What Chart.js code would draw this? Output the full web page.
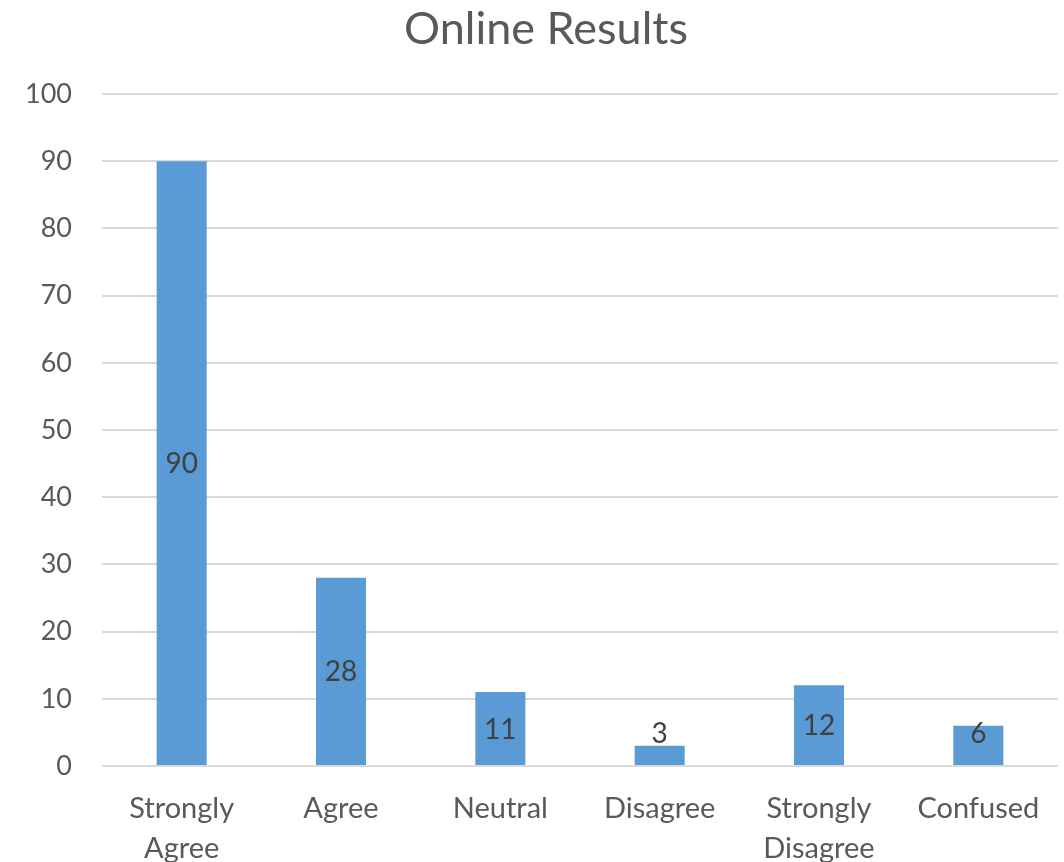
<!DOCTYPE html>
<html>
<head>
<meta charset="utf-8">
<script src="https://cdn.jsdelivr.net/npm/chart.js@4.4.0/dist/chart.umd.min.js"></script>
<style>
html,body{margin:0;padding:0;background:#fff;}
#wrap{width:1064px;height:862px;}
</style>
</head>
<body>
<div id="wrap"><canvas id="c" width="1064" height="862"></canvas></div>
<script>
const categories = [["Strongly","Agree"], "Agree", "Neutral", "Disagree", ["Strongly","Disagree"], "Confused"];
const values = [90, 28, 11, 3, 12, 6];
const yTicks = [0, 10, 20, 30, 40, 50, 60, 70, 80, 90, 100];
const titleText = "Online Results";

const FONT = "Lato, 'Open Sans', sans-serif";

const labelPlugin = {
  id: 'barLabels',
  afterLayout(chart) {
    const t = chart.titleBlock;
    if (t) { t.left += 34; }
  },
  afterDatasetsDraw(chart) {
    const ctx = chart.ctx;
    const meta = chart.getDatasetMeta(0);
    const zeroY = chart.scales.y.getPixelForValue(0);
    ctx.save();
    ctx.font = "28px " + FONT;
    ctx.fillStyle = "#404040";
    ctx.textAlign = "center";
    ctx.textBaseline = "middle";
    meta.data.forEach((bar, i) => {
      let cy = (bar.y + bar.base) / 2;
      cy = Math.min(cy, zeroY - 33);
      ctx.fillText(String(values[i]), bar.x, cy + 1);
    });
    ctx.restore();
  }
};

new Chart(document.getElementById('c'), {
  type: 'bar',
  data: {
    labels: categories,
    datasets: [{
      data: values,
      backgroundColor: '#5B9BD5',
      borderWidth: 0,
      barPercentage: 0.314,
      categoryPercentage: 1.0
    }]
  },
  options: {
    responsive: false,
    animation: false,
    layout: { padding: { left: 0, right: 6, top: 0, bottom: 0 } },
    plugins: {
      legend: { display: false },
      tooltip: { enabled: false },
      title: {
        display: true,
        text: titleText,
        color: '#595959',
        font: { family: FONT, size: 45, weight: 'normal', lineHeight: 1.2 },
        padding: { top: 2, bottom: 38 }
      }
    },
    scales: {
      x: {
        grid: { display: false },
        border: { display: false },
        ticks: {
          color: '#595959',
          font: { family: FONT, size: 29, lineHeight: 1.38 },
          padding: 15,
          maxRotation: 0,
          autoSkip: false
        },
        afterFit(scale) { scale.height = 96; }
      },
      y: {
        min: 0,
        max: 100,
        afterBuildTicks(scale) { scale.ticks = yTicks.map(v => ({ value: v })); },
        grid: { color: '#d9d9d9', lineWidth: 2, drawTicks: false },
        border: { display: false },
        ticks: {
          color: '#595959',
          font: { family: FONT, size: 27 },
          padding: 30
        },
        afterFit(scale) { scale.width = 102; }
      }
    }
  },
  plugins: [labelPlugin]
});
</script>
</body>
</html>
